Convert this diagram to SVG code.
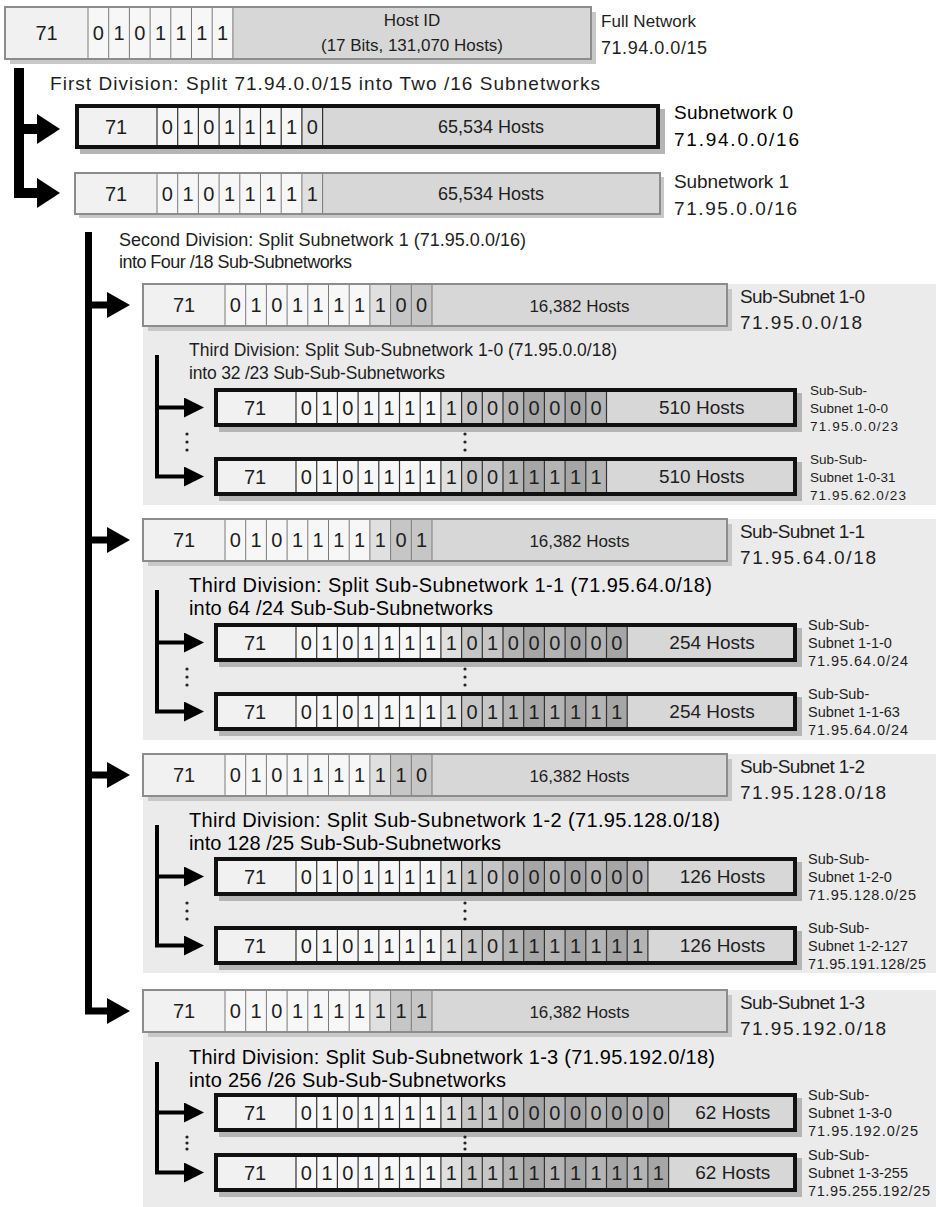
<svg xmlns="http://www.w3.org/2000/svg" width="936" height="1207" viewBox="0 0 936 1207">
<defs>
<style>
.f{font-family:"Liberation Sans",Arial,Helvetica,sans-serif;fill:#1e1e1e}
.d{font-size:20px;text-anchor:middle}
.m{text-anchor:middle}
.s13{font-size:13.5px}.s14{font-size:14.5px}.s16{font-size:16px}.s17{font-size:17px}.s175{font-size:17.5px}.s18{font-size:18px}.s19{font-size:19px}.s20{font-size:20px}
.dk{fill:#000}
.c71{fill:#f1f1f1}.cw{fill:#f7f7f7}.c16{fill:#e0e0e0}.c18{fill:#c6c6c6}.ca{fill:#b4b4b4}.cb{fill:#a6a6a6}.ch{fill:#d7d7d7}
.sh{fill:#b5b5b5}.shl{fill:#c8c8c8}
.bg{fill:none;stroke:#8c8c8c;stroke-width:2}
.bk{fill:none;stroke:#111;stroke-width:4}
.dv{fill:none;stroke:#7a7a7a;stroke-width:1}
.dvk{fill:none;stroke:#333;stroke-width:1.2}
.panel{fill:#ebebeb}
.dot{fill:#222}
.c1{fill:none;stroke:#000;stroke-width:10;stroke-linejoin:miter}
.c2{fill:none;stroke:#000;stroke-width:7;stroke-linejoin:miter}
.c3{fill:none;stroke:#000;stroke-width:4;stroke-linejoin:miter}
</style>
<marker id="m1" viewBox="0 0 23 30" markerWidth="23" markerHeight="30" refX="0" refY="15" orient="auto" markerUnits="userSpaceOnUse"><path d="M0 0L23 15L0 30Z" fill="#000"/></marker>
<marker id="m2" viewBox="0 0 23 26" markerWidth="23" markerHeight="26" refX="0" refY="13" orient="auto" markerUnits="userSpaceOnUse"><path d="M0 0L23 13L0 26Z" fill="#000"/></marker>
<marker id="m3" viewBox="0 0 20 20" markerWidth="20" markerHeight="20" refX="0" refY="10" orient="auto" markerUnits="userSpaceOnUse"><path d="M0 0L20 10L0 20Z" fill="#000"/></marker>
</defs>
<rect width="936" height="1207" fill="#fff"/>

<g id="panels">
<rect class="panel" x="143" y="284" width="793" height="221"/>
<rect class="panel" x="143" y="519" width="793" height="221"/>
<rect class="panel" x="143" y="754" width="793" height="219"/>
<rect class="panel" x="143" y="990" width="793" height="217"/>
</g>

<g id="full-network">
<rect class="shl" x="10" y="12" width="586" height="52"/>
<rect class="c71" x="5" y="7" width="83" height="52"/>
<rect class="cw" x="88" y="7" width="144.9" height="52"/>
<rect class="ch" x="232.9" y="7" width="358.1" height="52"/>
<path class="dv" d="M88 7v52m20.7-52v52m20.7-52v52m20.7-52v52m20.7-52v52m20.7-52v52m20.7-52v52m20.7-52v52"/>
<rect class="bg" x="5" y="7" width="586" height="52"/>
<text class="f d" x="46.5" y="40">71</text>
<text class="f d" x="98.35 119.05 139.75 160.45 181.15 201.85 222.55" y="40">0101111</text>
<text class="f s17 m" x="412" y="26">Host ID</text>
<text class="f s17 m" x="412" y="51" textLength="182">(17 Bits, 131,070 Hosts)</text>
<text class="f s17" x="601" y="27" textLength="95">Full Network</text>
<text class="f s18" x="601" y="54" textLength="106">71.94.0.0/15</text>
</g>

<g id="first-division-label">
<text class="f s19" x="50" y="90" textLength="550">First Division: Split 71.94.0.0/15 into Two /16 Subnetworks</text>
</g>

<g id="subnet-0">
<rect class="sh" x="80" y="109" width="585" height="45"/>
<rect class="c71" x="75" y="104" width="82" height="45"/>
<rect class="cw" x="157" y="104" width="144.9" height="45"/>
<rect class="c16" x="301.9" y="104" width="20.7" height="45"/>
<rect class="ch" x="322.6" y="104" width="337.4" height="45"/>
<path class="dvk" d="M157 104v45m20.7-45v45m20.7-45v45m20.7-45v45m20.7-45v45m20.7-45v45m20.7-45v45m20.7-45v45m20.7-45v45"/>
<rect class="bk" x="77" y="106" width="581" height="41"/>
<text class="f d" x="116" y="133.5">71</text>
<text class="f d" x="167.35 188.05 208.75 229.45 250.15 270.85 291.55 312.25" y="133.5">01011110</text>
<text class="f s18 m" x="491" y="133">65,534 Hosts</text>
<text class="f s19 dk" x="674" y="119" textLength="119">Subnetwork 0</text>
<text class="f s19 dk" x="674" y="146" textLength="125">71.94.0.0/16</text>
</g>

<g id="subnet-1">
<rect class="shl" x="79" y="177" width="585" height="41"/>
<rect class="c71" x="75" y="173" width="82" height="41"/>
<rect class="cw" x="157" y="173" width="144.9" height="41"/>
<rect class="c16" x="301.9" y="173" width="20.7" height="41"/>
<rect class="ch" x="322.6" y="173" width="337.4" height="41"/>
<path class="dv" d="M157 173v41m20.7-41v41m20.7-41v41m20.7-41v41m20.7-41v41m20.7-41v41m20.7-41v41m20.7-41v41m20.7-41v41"/>
<rect class="bg" x="75" y="173" width="585" height="41"/>
<text class="f d" x="116" y="200.5">71</text>
<text class="f d" x="167.35 188.05 208.75 229.45 250.15 270.85 291.55 312.25" y="200.5">01011111</text>
<text class="f s18 m" x="491" y="200">65,534 Hosts</text>
<text class="f s19" x="674" y="188" textLength="115">Subnetwork 1</text>
<text class="f s19" x="674" y="215" textLength="123">71.95.0.0/16</text>
</g>

<g id="second-division-label">
<text class="f s18" x="119" y="246" textLength="407">Second Division: Split Subnetwork 1 (71.95.0.0/16)</text>
<text class="f s18" x="119" y="268" textLength="233">into Four /18 Sub-Subnetworks</text>
</g>

<!-- ===== Sub-Subnet 1-0 ===== -->
<g id="sub-subnet-1-0">
<rect class="shl" x="148" y="289" width="584" height="42"/>
<rect class="c71" x="143" y="284" width="82" height="42"/>
<rect class="cw" x="225" y="284" width="144.9" height="42"/>
<rect class="c16" x="369.9" y="284" width="20.7" height="42"/>
<rect class="c18" x="390.6" y="284" width="41.4" height="42"/>
<rect class="ch" x="432" y="284" width="295" height="42"/>
<path class="dv" d="M225 284v42m20.7-42v42m20.7-42v42m20.7-42v42m20.7-42v42m20.7-42v42m20.7-42v42m20.7-42v42m20.7-42v42m20.7-42v42m20.7-42v42"/>
<rect class="bg" x="143" y="284" width="584" height="42"/>
<text class="f d" x="184" y="312">71</text>
<text class="f d" x="235.35 256.05 276.75 297.45 318.15 338.85 359.55 380.25 400.95 421.65" y="312">0101111100</text>
<text class="f s17 m" x="579.5" y="311.5">16,382 Hosts</text>
<text class="f s19" x="740" y="303" textLength="125">Sub-Subnet 1-0</text>
<text class="f s19" x="740" y="329" textLength="122">71.95.0.0/18</text>
<text class="f s175" x="189" y="356" textLength="428">Third Division: Split Sub-Subnetwork 1-0 (71.95.0.0/18)</text>
<text class="f s175" x="189" y="379" textLength="256">into 32 /23 Sub-Sub-Subnetworks</text>
</g>

<g id="sub-sub-subnet-1-0-0">
<rect class="sh" x="219" y="393" width="583" height="39"/>
<rect class="c71" x="214" y="388" width="82" height="39"/>
<rect class="cw" x="296" y="388" width="144.9" height="39"/>
<rect class="c16" x="440.9" y="388" width="20.7" height="39"/>
<rect class="c18" x="461.6" y="388" width="41.4" height="39"/>
<rect class="ca" x="503" y="388" width="103.5" height="39"/>
<rect class="cb" x="523.7" y="388" width="20.7" height="39"/>
<rect class="cb" x="565.1" y="388" width="20.7" height="39"/>
<rect class="ch" x="606.5" y="388" width="190.5" height="39"/>
<path class="dvk" d="M296 388v39m20.7-39v39m20.7-39v39m20.7-39v39m20.7-39v39m20.7-39v39m20.7-39v39m20.7-39v39m20.7-39v39m20.7-39v39m20.7-39v39m20.7-39v39m20.7-39v39m20.7-39v39m20.7-39v39m20.7-39v39"/>
<rect class="bk" x="216" y="390" width="579" height="35"/>
<text class="f d" x="255" y="414.5">71</text>
<text class="f d" x="306.35 327.05 347.75 368.45 389.15 409.85 430.55 451.25 471.95 492.65 513.35 534.05 554.75 575.45 596.15" y="414.5">010111110000000</text>
<text class="f s19 m" x="701.75" y="414">510 Hosts</text>
<text class="f s13" x="810" y="394.5">Sub-Sub-</text>
<text class="f s13" x="810" y="412.5">Subnet 1-0-0</text>
<text class="f s13" x="810" y="430.5" textLength="88">71.95.0.0/23</text>
</g>

<g id="ellipsis-1-0">
<circle class="dot" cx="187" cy="434" r="1.6"/><circle class="dot" cx="187" cy="442" r="1.6"/><circle class="dot" cx="187" cy="450" r="1.6"/>
<circle class="dot" cx="465" cy="434" r="1.6"/><circle class="dot" cx="465" cy="442" r="1.6"/><circle class="dot" cx="465" cy="450" r="1.6"/>
</g>

<g id="sub-sub-subnet-1-0-31">
<rect class="sh" x="219" y="462" width="583" height="39"/>
<rect class="c71" x="214" y="457" width="82" height="39"/>
<rect class="cw" x="296" y="457" width="144.9" height="39"/>
<rect class="c16" x="440.9" y="457" width="20.7" height="39"/>
<rect class="c18" x="461.6" y="457" width="41.4" height="39"/>
<rect class="ca" x="503" y="457" width="103.5" height="39"/>
<rect class="cb" x="523.7" y="457" width="20.7" height="39"/>
<rect class="cb" x="565.1" y="457" width="20.7" height="39"/>
<rect class="ch" x="606.5" y="457" width="190.5" height="39"/>
<path class="dvk" d="M296 457v39m20.7-39v39m20.7-39v39m20.7-39v39m20.7-39v39m20.7-39v39m20.7-39v39m20.7-39v39m20.7-39v39m20.7-39v39m20.7-39v39m20.7-39v39m20.7-39v39m20.7-39v39m20.7-39v39m20.7-39v39"/>
<rect class="bk" x="216" y="459" width="579" height="35"/>
<text class="f d" x="255" y="483.5">71</text>
<text class="f d" x="306.35 327.05 347.75 368.45 389.15 409.85 430.55 451.25 471.95 492.65 513.35 534.05 554.75 575.45 596.15" y="483.5">010111110011111</text>
<text class="f s19 m" x="701.75" y="483">510 Hosts</text>
<text class="f s13" x="810" y="463.5">Sub-Sub-</text>
<text class="f s13" x="810" y="481.5">Subnet 1-0-31</text>
<text class="f s13" x="810" y="499.5" textLength="96">71.95.62.0/23</text>
</g>

<!-- ===== Sub-Subnet 1-1 ===== -->
<g id="sub-subnet-1-1">
<rect class="shl" x="148" y="524" width="584" height="42"/>
<rect class="c71" x="143" y="519" width="82" height="42"/>
<rect class="cw" x="225" y="519" width="144.9" height="42"/>
<rect class="c16" x="369.9" y="519" width="20.7" height="42"/>
<rect class="c18" x="390.6" y="519" width="41.4" height="42"/>
<rect class="ch" x="432" y="519" width="295" height="42"/>
<path class="dv" d="M225 519v42m20.7-42v42m20.7-42v42m20.7-42v42m20.7-42v42m20.7-42v42m20.7-42v42m20.7-42v42m20.7-42v42m20.7-42v42m20.7-42v42"/>
<rect class="bg" x="143" y="519" width="584" height="42"/>
<text class="f d" x="184" y="547">71</text>
<text class="f d" x="235.35 256.05 276.75 297.45 318.15 338.85 359.55 380.25 400.95 421.65" y="547">0101111101</text>
<text class="f s17 m" x="579.5" y="546.5">16,382 Hosts</text>
<text class="f s19" x="740" y="538" textLength="125">Sub-Subnet 1-1</text>
<text class="f s19" x="740" y="564" textLength="136">71.95.64.0/18</text>
<text class="f s20 dk" x="189" y="592" textLength="523">Third Division: Split Sub-Subnetwork 1-1 (71.95.64.0/18)</text>
<text class="f s20 dk" x="189" y="615" textLength="304">into 64 /24 Sub-Sub-Subnetworks</text>
</g>

<g id="sub-sub-subnet-1-1-0">
<rect class="sh" x="219" y="628" width="583" height="39"/>
<rect class="c71" x="214" y="623" width="82" height="39"/>
<rect class="cw" x="296" y="623" width="144.9" height="39"/>
<rect class="c16" x="440.9" y="623" width="20.7" height="39"/>
<rect class="c18" x="461.6" y="623" width="41.4" height="39"/>
<rect class="ca" x="503" y="623" width="124.2" height="39"/>
<rect class="cb" x="523.7" y="623" width="20.7" height="39"/>
<rect class="cb" x="565.1" y="623" width="20.7" height="39"/>
<rect class="cb" x="606.5" y="623" width="20.7" height="39"/>
<rect class="ch" x="627.2" y="623" width="169.8" height="39"/>
<path class="dvk" d="M296 623v39m20.7-39v39m20.7-39v39m20.7-39v39m20.7-39v39m20.7-39v39m20.7-39v39m20.7-39v39m20.7-39v39m20.7-39v39m20.7-39v39m20.7-39v39m20.7-39v39m20.7-39v39m20.7-39v39m20.7-39v39m20.7-39v39"/>
<rect class="bk" x="216" y="625" width="579" height="35"/>
<text class="f d" x="255" y="649.5">71</text>
<text class="f d" x="306.35 327.05 347.75 368.45 389.15 409.85 430.55 451.25 471.95 492.65 513.35 534.05 554.75 575.45 596.15 616.85" y="649.5">0101111101000000</text>
<text class="f s19 m" x="712.1" y="649">254 Hosts</text>
<text class="f s14" x="808" y="629.5">Sub-Sub-</text>
<text class="f s14" x="808" y="647.5">Subnet 1-1-0</text>
<text class="f s14" x="808" y="665.5" textLength="100">71.95.64.0/24</text>
</g>

<g id="ellipsis-1-1">
<circle class="dot" cx="187" cy="669" r="1.6"/><circle class="dot" cx="187" cy="677" r="1.6"/><circle class="dot" cx="187" cy="685" r="1.6"/>
<circle class="dot" cx="465" cy="669" r="1.6"/><circle class="dot" cx="465" cy="677" r="1.6"/><circle class="dot" cx="465" cy="685" r="1.6"/>
</g>

<g id="sub-sub-subnet-1-1-63">
<rect class="sh" x="219" y="697" width="583" height="39"/>
<rect class="c71" x="214" y="692" width="82" height="39"/>
<rect class="cw" x="296" y="692" width="144.9" height="39"/>
<rect class="c16" x="440.9" y="692" width="20.7" height="39"/>
<rect class="c18" x="461.6" y="692" width="41.4" height="39"/>
<rect class="ca" x="503" y="692" width="124.2" height="39"/>
<rect class="cb" x="523.7" y="692" width="20.7" height="39"/>
<rect class="cb" x="565.1" y="692" width="20.7" height="39"/>
<rect class="cb" x="606.5" y="692" width="20.7" height="39"/>
<rect class="ch" x="627.2" y="692" width="169.8" height="39"/>
<path class="dvk" d="M296 692v39m20.7-39v39m20.7-39v39m20.7-39v39m20.7-39v39m20.7-39v39m20.7-39v39m20.7-39v39m20.7-39v39m20.7-39v39m20.7-39v39m20.7-39v39m20.7-39v39m20.7-39v39m20.7-39v39m20.7-39v39m20.7-39v39"/>
<rect class="bk" x="216" y="694" width="579" height="35"/>
<text class="f d" x="255" y="718.5">71</text>
<text class="f d" x="306.35 327.05 347.75 368.45 389.15 409.85 430.55 451.25 471.95 492.65 513.35 534.05 554.75 575.45 596.15 616.85" y="718.5">0101111101111111</text>
<text class="f s19 m" x="712.1" y="718">254 Hosts</text>
<text class="f s14" x="808" y="698.5">Sub-Sub-</text>
<text class="f s14" x="808" y="716.5">Subnet 1-1-63</text>
<text class="f s14" x="808" y="734.5" textLength="100">71.95.64.0/24</text>
</g>

<!-- ===== Sub-Subnet 1-2 ===== -->
<g id="sub-subnet-1-2">
<rect class="shl" x="148" y="759" width="584" height="42"/>
<rect class="c71" x="143" y="754" width="82" height="42"/>
<rect class="cw" x="225" y="754" width="144.9" height="42"/>
<rect class="c16" x="369.9" y="754" width="20.7" height="42"/>
<rect class="c18" x="390.6" y="754" width="41.4" height="42"/>
<rect class="ch" x="432" y="754" width="295" height="42"/>
<path class="dv" d="M225 754v42m20.7-42v42m20.7-42v42m20.7-42v42m20.7-42v42m20.7-42v42m20.7-42v42m20.7-42v42m20.7-42v42m20.7-42v42m20.7-42v42"/>
<rect class="bg" x="143" y="754" width="584" height="42"/>
<text class="f d" x="184" y="782">71</text>
<text class="f d" x="235.35 256.05 276.75 297.45 318.15 338.85 359.55 380.25 400.95 421.65" y="782">0101111110</text>
<text class="f s17 m" x="579.5" y="781.5">16,382 Hosts</text>
<text class="f s19" x="740" y="773" textLength="125">Sub-Subnet 1-2</text>
<text class="f s19" x="740" y="799" textLength="146">71.95.128.0/18</text>
<text class="f s20 dk" x="189" y="827" textLength="531">Third Division: Split Sub-Subnetwork 1-2 (71.95.128.0/18)</text>
<text class="f s20 dk" x="189" y="850" textLength="312">into 128 /25 Sub-Sub-Subnetworks</text>
</g>

<g id="sub-sub-subnet-1-2-0">
<rect class="sh" x="219" y="862" width="583" height="39"/>
<rect class="c71" x="214" y="857" width="82" height="39"/>
<rect class="cw" x="296" y="857" width="144.9" height="39"/>
<rect class="c16" x="440.9" y="857" width="20.7" height="39"/>
<rect class="c18" x="461.6" y="857" width="41.4" height="39"/>
<rect class="ca" x="503" y="857" width="144.9" height="39"/>
<rect class="cb" x="523.7" y="857" width="20.7" height="39"/>
<rect class="cb" x="565.1" y="857" width="20.7" height="39"/>
<rect class="cb" x="606.5" y="857" width="20.7" height="39"/>
<rect class="ch" x="647.9" y="857" width="149.1" height="39"/>
<path class="dvk" d="M296 857v39m20.7-39v39m20.7-39v39m20.7-39v39m20.7-39v39m20.7-39v39m20.7-39v39m20.7-39v39m20.7-39v39m20.7-39v39m20.7-39v39m20.7-39v39m20.7-39v39m20.7-39v39m20.7-39v39m20.7-39v39m20.7-39v39m20.7-39v39"/>
<rect class="bk" x="216" y="859" width="579" height="35"/>
<text class="f d" x="255" y="883.5">71</text>
<text class="f d" x="306.35 327.05 347.75 368.45 389.15 409.85 430.55 451.25 471.95 492.65 513.35 534.05 554.75 575.45 596.15 616.85 637.55" y="883.5">01011111100000000</text>
<text class="f s19 m" x="722.45" y="883">126 Hosts</text>
<text class="f s14" x="808" y="863.5">Sub-Sub-</text>
<text class="f s14" x="808" y="881.5">Subnet 1-2-0</text>
<text class="f s14" x="808" y="899.5" textLength="108">71.95.128.0/25</text>
</g>

<g id="ellipsis-1-2">
<circle class="dot" cx="187" cy="903" r="1.6"/><circle class="dot" cx="187" cy="911" r="1.6"/><circle class="dot" cx="187" cy="919" r="1.6"/>
<circle class="dot" cx="465" cy="903" r="1.6"/><circle class="dot" cx="465" cy="911" r="1.6"/><circle class="dot" cx="465" cy="919" r="1.6"/>
</g>

<g id="sub-sub-subnet-1-2-127">
<rect class="sh" x="219" y="931" width="583" height="39"/>
<rect class="c71" x="214" y="926" width="82" height="39"/>
<rect class="cw" x="296" y="926" width="144.9" height="39"/>
<rect class="c16" x="440.9" y="926" width="20.7" height="39"/>
<rect class="c18" x="461.6" y="926" width="41.4" height="39"/>
<rect class="ca" x="503" y="926" width="144.9" height="39"/>
<rect class="cb" x="523.7" y="926" width="20.7" height="39"/>
<rect class="cb" x="565.1" y="926" width="20.7" height="39"/>
<rect class="cb" x="606.5" y="926" width="20.7" height="39"/>
<rect class="ch" x="647.9" y="926" width="149.1" height="39"/>
<path class="dvk" d="M296 926v39m20.7-39v39m20.7-39v39m20.7-39v39m20.7-39v39m20.7-39v39m20.7-39v39m20.7-39v39m20.7-39v39m20.7-39v39m20.7-39v39m20.7-39v39m20.7-39v39m20.7-39v39m20.7-39v39m20.7-39v39m20.7-39v39m20.7-39v39"/>
<rect class="bk" x="216" y="928" width="579" height="35"/>
<text class="f d" x="255" y="952.5">71</text>
<text class="f d" x="306.35 327.05 347.75 368.45 389.15 409.85 430.55 451.25 471.95 492.65 513.35 534.05 554.75 575.45 596.15 616.85 637.55" y="952.5">01011111101111111</text>
<text class="f s19 m" x="722.45" y="952">126 Hosts</text>
<text class="f s14" x="808" y="932.5">Sub-Sub-</text>
<text class="f s14" x="808" y="950.5">Subnet 1-2-127</text>
<text class="f s14" x="808" y="968.5" textLength="118">71.95.191.128/25</text>
</g>

<!-- ===== Sub-Subnet 1-3 ===== -->
<g id="sub-subnet-1-3">
<rect class="shl" x="148" y="995" width="584" height="42"/>
<rect class="c71" x="143" y="990" width="82" height="42"/>
<rect class="cw" x="225" y="990" width="144.9" height="42"/>
<rect class="c16" x="369.9" y="990" width="20.7" height="42"/>
<rect class="c18" x="390.6" y="990" width="41.4" height="42"/>
<rect class="ch" x="432" y="990" width="295" height="42"/>
<path class="dv" d="M225 990v42m20.7-42v42m20.7-42v42m20.7-42v42m20.7-42v42m20.7-42v42m20.7-42v42m20.7-42v42m20.7-42v42m20.7-42v42m20.7-42v42"/>
<rect class="bg" x="143" y="990" width="584" height="42"/>
<text class="f d" x="184" y="1018">71</text>
<text class="f d" x="235.35 256.05 276.75 297.45 318.15 338.85 359.55 380.25 400.95 421.65" y="1018">0101111111</text>
<text class="f s17 m" x="579.5" y="1017.5">16,382 Hosts</text>
<text class="f s19" x="740" y="1009" textLength="125">Sub-Subnet 1-3</text>
<text class="f s19" x="740" y="1035" textLength="146">71.95.192.0/18</text>
<text class="f s20 dk" x="189" y="1064" textLength="526">Third Division: Split Sub-Subnetwork 1-3 (71.95.192.0/18)</text>
<text class="f s20 dk" x="189" y="1087" textLength="317">into 256 /26 Sub-Sub-Subnetworks</text>
</g>

<g id="sub-sub-subnet-1-3-0">
<rect class="sh" x="219" y="1098" width="583" height="39"/>
<rect class="c71" x="214" y="1093" width="82" height="39"/>
<rect class="cw" x="296" y="1093" width="144.9" height="39"/>
<rect class="c16" x="440.9" y="1093" width="20.7" height="39"/>
<rect class="c18" x="461.6" y="1093" width="41.4" height="39"/>
<rect class="ca" x="503" y="1093" width="165.6" height="39"/>
<rect class="cb" x="523.7" y="1093" width="20.7" height="39"/>
<rect class="cb" x="565.1" y="1093" width="20.7" height="39"/>
<rect class="cb" x="606.5" y="1093" width="20.7" height="39"/>
<rect class="cb" x="647.9" y="1093" width="20.7" height="39"/>
<rect class="ch" x="668.6" y="1093" width="128.4" height="39"/>
<path class="dvk" d="M296 1093v39m20.7-39v39m20.7-39v39m20.7-39v39m20.7-39v39m20.7-39v39m20.7-39v39m20.7-39v39m20.7-39v39m20.7-39v39m20.7-39v39m20.7-39v39m20.7-39v39m20.7-39v39m20.7-39v39m20.7-39v39m20.7-39v39m20.7-39v39m20.7-39v39"/>
<rect class="bk" x="216" y="1095" width="579" height="35"/>
<text class="f d" x="255" y="1119.5">71</text>
<text class="f d" x="306.35 327.05 347.75 368.45 389.15 409.85 430.55 451.25 471.95 492.65 513.35 534.05 554.75 575.45 596.15 616.85 637.55 658.25" y="1119.5">010111111100000000</text>
<text class="f s19 m" x="732.8" y="1119">62 Hosts</text>
<text class="f s14" x="808" y="1099.5">Sub-Sub-</text>
<text class="f s14" x="808" y="1117.5">Subnet 1-3-0</text>
<text class="f s14" x="808" y="1135.5" textLength="110">71.95.192.0/25</text>
</g>

<g id="ellipsis-1-3">
<circle class="dot" cx="187" cy="1137" r="1.6"/><circle class="dot" cx="187" cy="1143" r="1.6"/><circle class="dot" cx="187" cy="1149" r="1.6"/>
<circle class="dot" cx="465" cy="1137" r="1.6"/><circle class="dot" cx="465" cy="1143" r="1.6"/><circle class="dot" cx="465" cy="1149" r="1.6"/>
</g>

<g id="sub-sub-subnet-1-3-255">
<rect class="sh" x="219" y="1158" width="583" height="39"/>
<rect class="c71" x="214" y="1153" width="82" height="39"/>
<rect class="cw" x="296" y="1153" width="144.9" height="39"/>
<rect class="c16" x="440.9" y="1153" width="20.7" height="39"/>
<rect class="c18" x="461.6" y="1153" width="41.4" height="39"/>
<rect class="ca" x="503" y="1153" width="165.6" height="39"/>
<rect class="cb" x="523.7" y="1153" width="20.7" height="39"/>
<rect class="cb" x="565.1" y="1153" width="20.7" height="39"/>
<rect class="cb" x="606.5" y="1153" width="20.7" height="39"/>
<rect class="cb" x="647.9" y="1153" width="20.7" height="39"/>
<rect class="ch" x="668.6" y="1153" width="128.4" height="39"/>
<path class="dvk" d="M296 1153v39m20.7-39v39m20.7-39v39m20.7-39v39m20.7-39v39m20.7-39v39m20.7-39v39m20.7-39v39m20.7-39v39m20.7-39v39m20.7-39v39m20.7-39v39m20.7-39v39m20.7-39v39m20.7-39v39m20.7-39v39m20.7-39v39m20.7-39v39m20.7-39v39"/>
<rect class="bk" x="216" y="1155" width="579" height="35"/>
<text class="f d" x="255" y="1179.5">71</text>
<text class="f d" x="306.35 327.05 347.75 368.45 389.15 409.85 430.55 451.25 471.95 492.65 513.35 534.05 554.75 575.45 596.15 616.85 637.55 658.25" y="1179.5">010111111111111111</text>
<text class="f s19 m" x="732.8" y="1179">62 Hosts</text>
<text class="f s14" x="808" y="1159.5">Sub-Sub-</text>
<text class="f s14" x="808" y="1177.5">Subnet 1-3-255</text>
<text class="f s14" x="808" y="1195.5" textLength="122">71.95.255.192/25</text>
</g>

<g id="connectors">
<path class="c1" d="M19 68V193H37" marker-end="url(#m1)"/>
<path class="c1" d="M19 129H37" marker-end="url(#m1)"/>
<path class="c2" d="M88.5 232V1011H107" marker-end="url(#m2)"/>
<path class="c2" d="M88.5 305H107" marker-end="url(#m2)"/>
<path class="c2" d="M88.5 540H107" marker-end="url(#m2)"/>
<path class="c2" d="M88.5 775H107" marker-end="url(#m2)"/>
<path class="c3" d="M157 355V476.5H184" marker-end="url(#m3)"/>
<path class="c3" d="M157 407.5H184" marker-end="url(#m3)"/>
<path class="c3" d="M157 590V711.5H184" marker-end="url(#m3)"/>
<path class="c3" d="M157 642.5H184" marker-end="url(#m3)"/>
<path class="c3" d="M157 825V945.5H184" marker-end="url(#m3)"/>
<path class="c3" d="M157 876.5H184" marker-end="url(#m3)"/>
<path class="c3" d="M157 1062V1172.5H184" marker-end="url(#m3)"/>
<path class="c3" d="M157 1112.5H184" marker-end="url(#m3)"/>
</g>
</svg>
